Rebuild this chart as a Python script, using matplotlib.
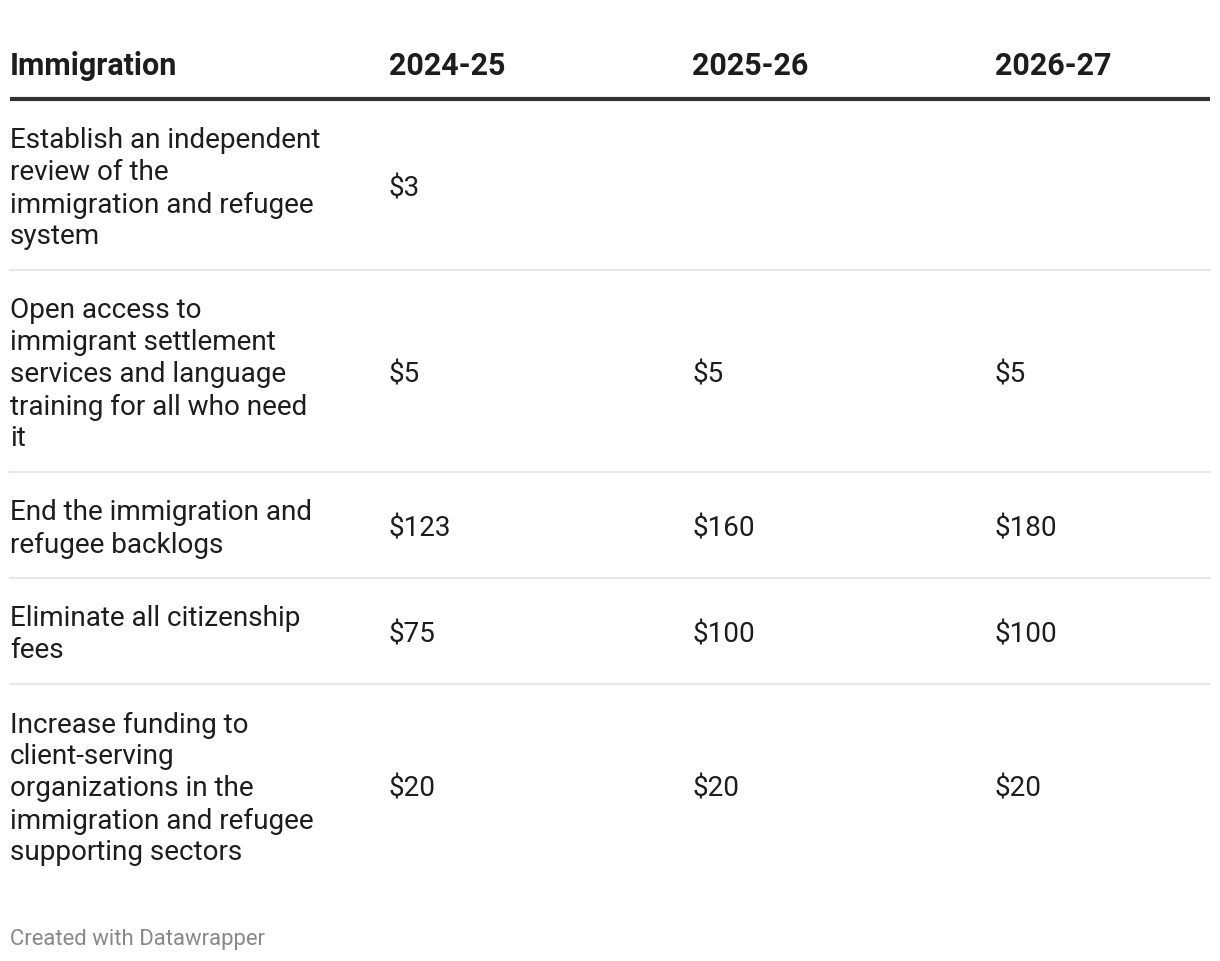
import matplotlib.pyplot as plt

plt.rcParams['font.family'] = ['Roboto', 'DejaVu Sans']

title = "Immigration"
years = ["2024-25", "2025-26", "2026-27"]
items = [
    "Establish an independent\nreview of the\nimmigration and refugee\nsystem",
    "Open access to\nimmigrant settlement\nservices and language\ntraining for all who need\nit",
    "End the immigration and\nrefugee backlogs",
    "Eliminate all citizenship\nfees",
    "Increase funding to\nclient-serving\norganizations in the\nimmigration and refugee\nsupporting sectors",
]
v2024 = ["$3", "$5", "$123", "$75", "$20"]
v2025 = ["", "$5", "$160", "$100", "$20"]
v2026 = ["", "$5", "$180", "$100", "$20"]

W, H = 1220, 962
fig = plt.figure(figsize=(W / 100, H / 100), dpi=100)
ax = fig.add_axes([0, 0, 1, 1])
ax.set_xlim(0, W)
ax.set_ylim(H, 0)
ax.axis('off')

col_x = [10, 389, 692, 995]
left, right = 10, 1210
line_h = 32
pad = 37
txt = '#1d1d1d'
body_fs = 20.1
dy = 3  # nudge: bbox centre sits a little above the visual centre

# header
ax.text(col_x[0], 63 + dy, title, fontsize=22, fontweight='bold', color=txt, va='center', ha='left')
for x, y in zip(col_x[1:], years):
    ax.text(x, 63 + dy, y, fontsize=22, fontweight='bold', color=txt, va='center', ha='left')
ax.plot([left, right], [100, 100], color='#333333', lw=3, solid_capstyle='butt')

top = 100
cols = [v2024, v2025, v2026]
for i, label in enumerate(items):
    lines = label.split('\n')
    first = top + pad + (1 if i == 0 else 0)
    for k, ln in enumerate(lines):
        ax.text(col_x[0], first + k * line_h + dy, ln, fontsize=body_fs, color=txt, va='center', ha='left')
    mid = first + (len(lines) - 1) * line_h / 2
    for c, vals in enumerate(cols):
        if vals[i]:
            ax.text(col_x[c + 1], mid + dy, vals[i], fontsize=body_fs, color=txt, va='center', ha='left')
    bottom = first + (len(lines) - 1) * line_h + pad
    if i < len(items) - 1:
        ax.plot([left, right], [bottom, bottom], color='#e3e3e3', lw=1.2)
    top = bottom

ax.text(col_x[0], 940, "Created with Datawrapper", fontsize=15.9, color='#888888', va='center', ha='left')

fig.savefig('out.png', dpi=100, facecolor='white')
